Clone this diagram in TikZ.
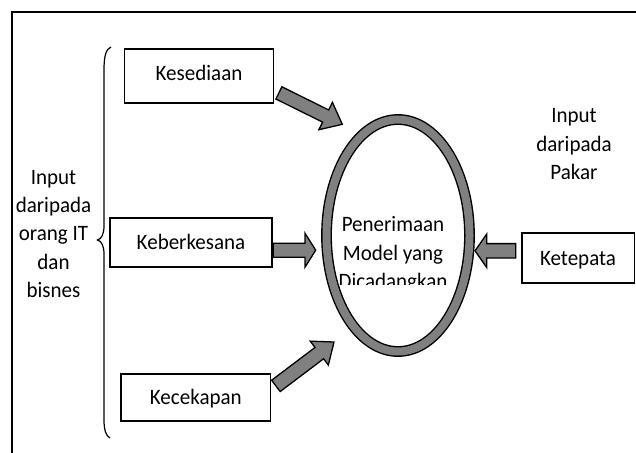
\documentclass[tikz,border=0pt]{standalone}
\usepackage{fontspec}
\setmainfont{Carlito}[FakeStretch=0.955]
\usetikzlibrary{shapes.geometric}
\definecolor{shade}{RGB}{128,128,128}
\newcommand\blockarrow[7]{%
  \begin{scope}[shift={(#1,#2)}, rotate=#3]
    \draw[blockarrowstyle] (0,-#7) -- ({#4-#5},-#7) -- ({#4-#5},-#6) -- (#4,0)
      -- ({#4-#5},#6) -- ({#4-#5},#7) -- (0,#7) -- cycle;
  \end{scope}}
\begin{document}
\begin{tikzpicture}[x=1pt,y=-1pt,
  lbl/.style={font=\fontsize{22}{28.3}\selectfont, align=center, inner sep=0pt},
  box/.style={lbl, draw=black, line width=1.6pt, rectangle, text height=14pt, text depth=0pt},
  blockarrowstyle/.style={draw=black, fill=shade, line width=1.3pt, line join=miter},
  ring/.style={ellipse, draw=black, line width=1.4pt, double=shade, double distance=8pt, inner sep=0pt},
  frame/.style={draw=black, line width=1.6pt},
  bracestyle/.style={draw=black, line width=1.2pt}]
\useasboundingbox (0,0) rectangle (636,452);
\clip (0,0) rectangle (636,452);

% outer frame
\draw[frame] (11.7,470) -- (11.7,12.3) -- (660,12.3);

% brace
\draw[bracestyle] (111,47) .. controls (106,49) and (104,56) .. (104,70)
  -- (104,226) .. controls (104,234) and (101.5,239) .. (97.5,240)
  .. controls (101.5,241) and (104,246) .. (104,254)
  -- (104,420) .. controls (104,430) and (106,436) .. (110,438);

% left and right captions
\node[lbl] (itbiz) at (53.5,234) {Input\\daripada\\orang IT\\dan\\bisnes};
\node[lbl] (pakar) at (574,144.3) {Input\\daripada\\Pakar};

% boxes
\node[box, minimum width=149pt, minimum height=53.4pt, text depth=6pt] (kes) at (199,76) {Kesediaan};
\node[box, minimum width=162pt, minimum height=49pt] (keb) at (191,242.5) {Keberkesana};
\node[box, minimum width=149.7pt, minimum height=47pt] (kec) at (195.8,397.5) {Kecekapan};
\node[box, minimum width=112.6pt, minimum height=50pt] (ket) at (578,258) {Ketepata};

% central ring
\node[ring, minimum width=143pt, minimum height=232pt] (ring) at (398,235.5) {};
\begin{scope}
  \clip (300,150) rectangle (480,284.3);
  \node[lbl] (ringtext) at (393,254.5) {Penerimaan\\Model yang\\Dicadangkan};
\end{scope}

% block arrows
\blockarrow{278.9}{92.9}{-26.35}{70.75}{18.6}{15.3}{6.8}
\blockarrow{273.3}{250.2}{0}{42.4}{10.7}{17}{7}
\blockarrow{515.7}{250.8}{180}{40.7}{11.7}{16.7}{7.2}
\blockarrow{275.9}{385.9}{37.07}{72.8}{18.4}{15}{7.1}
\end{tikzpicture}
\end{document}
